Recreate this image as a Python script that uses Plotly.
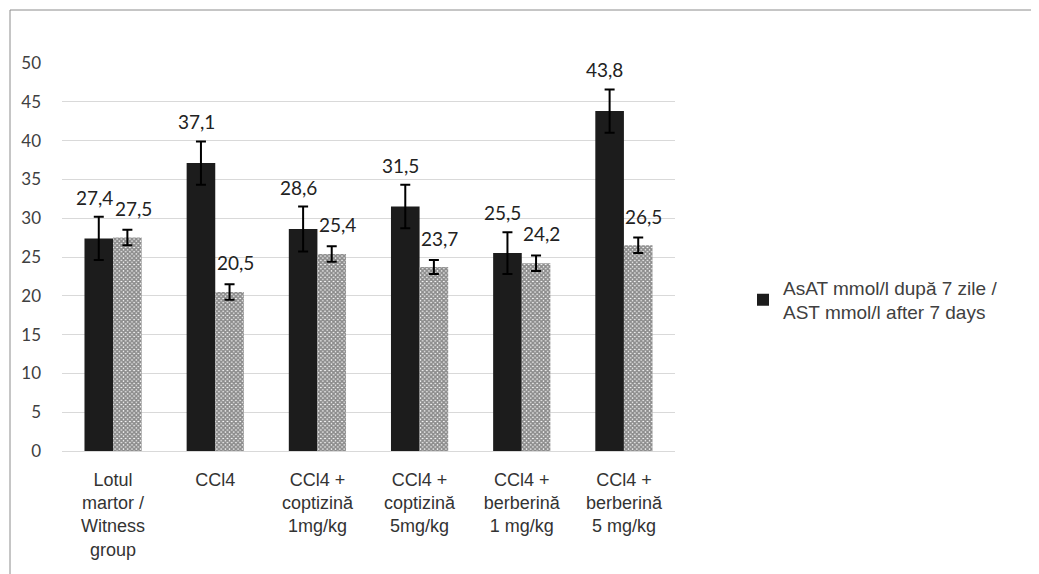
import plotly.graph_objects as go

categories = ["Lotul<br>martor /<br>Witness<br>group", "CCl4",
              "CCl4 +<br>coptizină<br>1mg/kg", "CCl4 +<br>coptizină<br>5mg/kg",
              "CCl4 +<br>berberină<br>1 mg/kg", "CCl4 +<br>berberină<br>5 mg/kg"]
ast_7 = [27.4, 37.1, 28.6, 31.5, 25.5, 43.8]
ast_7_err = [2.8, 2.8, 2.9, 2.8, 2.7, 2.8]
ast_2 = [27.5, 20.5, 25.4, 23.7, 24.2, 26.5]
ast_2_err = [1.0, 1.0, 1.0, 0.9, 1.0, 1.0]
series1_name = "AsAT mmol/l după 7 zile /<br>AST mmol/l after 7 days"
series2_name = "Series 2"
y_ticks = [0, 5, 10, 15, 20, 25, 30, 35, 40, 45, 50]

def fmt(v):
    return f"{v:.1f}".replace(".", ",")

fig = go.Figure()
fig.add_trace(go.Bar(
    x=categories, y=ast_7, name=series1_name,
    marker=dict(color="#1c1c1c", line=dict(width=0)),
    error_y=dict(type="data", array=ast_7_err, color="black", thickness=2, width=5),
))
fig.add_trace(go.Bar(
    x=categories, y=ast_2, name=series2_name, showlegend=False,
    marker=dict(color="#ffffff", line=dict(width=0),
                pattern=dict(shape="x", size=3, solidity=0.8, fgcolor="#1a1a1a", bgcolor="#ffffff")),
    error_y=dict(type="data", array=ast_2_err, color="black", thickness=2, width=5),
))

annos = []
for c, v, e in zip(categories, ast_7, ast_7_err):
    annos.append(dict(x=c, y=v + e, text=fmt(v), showarrow=False, xref="x", yref="y",
                      yanchor="bottom", xshift=-19, yshift=6,
                      font=dict(family="Lato", size=19, color="#222")))
for c, v, e in zip(categories, ast_2, ast_2_err):
    annos.append(dict(x=c, y=v + e, text=fmt(v), showarrow=False, xref="x", yref="y",
                      yanchor="bottom", xshift=20, yshift=8,
                      font=dict(family="Lato", size=19, color="#222")))

W, H = 1039, 574
# figure is drawn 8px in from the page corner
L, T = 54, 55
R = W - 667
B = H - 443
pw, ph = W - L - R, H - T - B
bx = (2 - L) / pw
by = (H - B - 2) / ph
ex = (W - L) / pw
ey = -(B + 5) / ph

fig.update_layout(
    width=W, height=H,
    margin=dict(l=L, r=R, t=T, b=B, autoexpand=False),
    paper_bgcolor="white", plot_bgcolor="white",
    barmode="group", bargap=0.44, bargroupgap=0,
    showlegend=True,
    legend=dict(x=(735 - L) / pw, y=(H - B - 292) / ph, xanchor="left", yanchor="middle",
                font=dict(family="Liberation Sans", size=19, color="#404040"),
                itemwidth=30, bgcolor="rgba(0,0,0,0)"),
    annotations=annos,
    shapes=[dict(type="line", xref="paper", yref="paper", x0=bx, x1=bx, y0=ey, y1=by,
                 line=dict(color="#8c8c8c", width=1)),
            dict(type="line", xref="paper", yref="paper", x0=bx, x1=ex, y0=by, y1=by,
                 line=dict(color="#8c8c8c", width=1))],
    xaxis=dict(showgrid=False, showline=True, linecolor="#d9d9d9", linewidth=1,
               ticks="", ticklabelstandoff=12,
               tickfont=dict(family="Liberation Sans", size=18, color="#333")),
    yaxis=dict(range=[0, 50], tickvals=y_ticks, showgrid=True, gridcolor="#d9d9d9",
               gridwidth=1, zeroline=False, showline=False, ticks="", ticklabelstandoff=20,
               tickfont=dict(family="Lato", size=17, color="#404040")),
)

fig.write_html("out.html")
